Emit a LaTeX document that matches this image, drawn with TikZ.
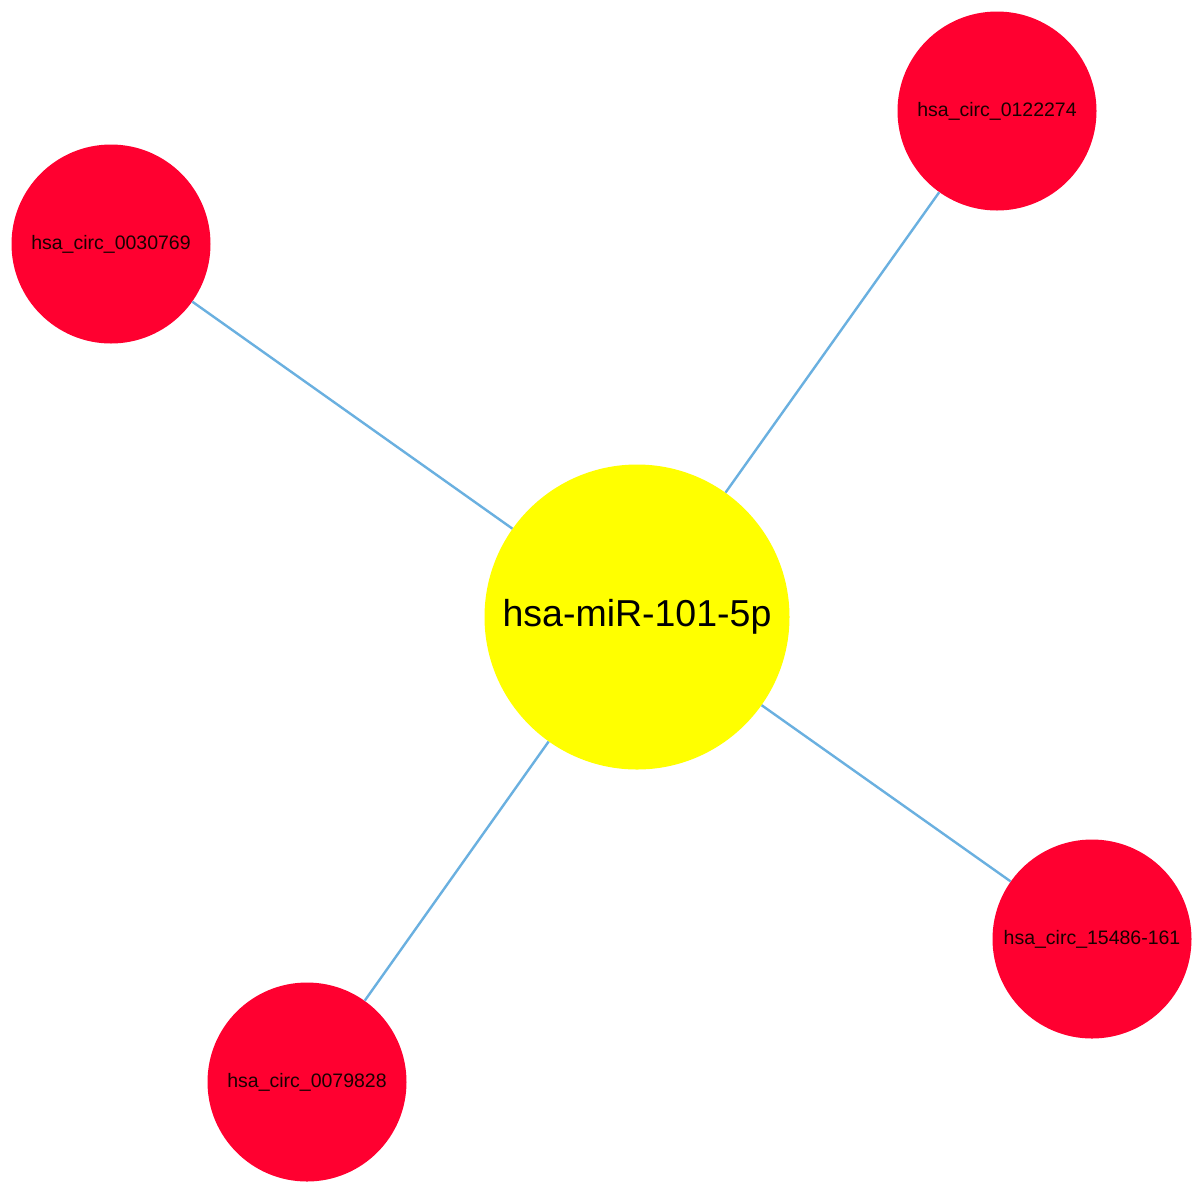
\documentclass[tikz,border=0pt]{standalone}
\usepackage{fontspec}
\setmainfont{Liberation Sans}
\definecolor{nodered}{HTML}{FF0030}
\definecolor{nodeyellow}{HTML}{FFFF00}
\definecolor{edgeblue}{HTML}{6AB0E0}
\begin{document}
\begin{tikzpicture}[x=1pt,y=-1pt,
  circnode/.style={circle,fill=nodered,draw=none,minimum size=199pt,inner sep=0pt,
    font=\fontsize{19.5pt}{20pt}\selectfont,text=black!90!red},
  hubnode/.style={circle,fill=nodeyellow,draw=none,minimum size=305pt,inner sep=0pt,
    font=\fontsize{37.5pt}{40pt}\selectfont,text=black},
  link/.style={draw=edgeblue,line width=2.4pt}]
\useasboundingbox (0,0) rectangle (1204,1195);
\fill[white] (0,0) rectangle (1204,1195);
\node[hubnode] (hub) at (637,617) {hsa-miR-101-5p};
\node[circnode] (c1) at (111,244) {hsa\_circ\_0030769};
\node[circnode] (c2) at (997,111) {hsa\_circ\_0122274};
\node[circnode] (c3) at (1092,939) {hsa\_circ\_15486-161};
\node[circnode] (c4) at (307,1082) {hsa\_circ\_0079828};
\begin{scope}[on background layer/.try]
\end{scope}
\draw[link] (hub) -- (c1);
\draw[link] (hub) -- (c2);
\draw[link] (hub) -- (c3);
\draw[link] (hub) -- (c4);
\end{tikzpicture}
\end{document}
